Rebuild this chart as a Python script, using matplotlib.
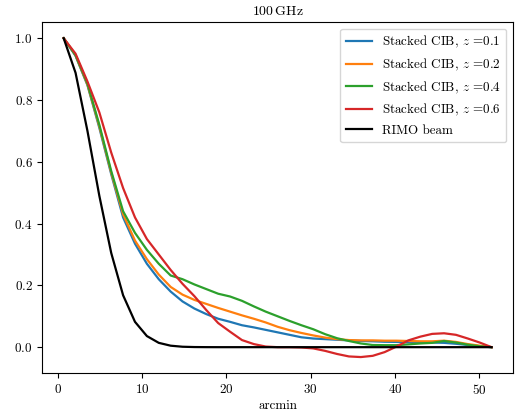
import matplotlib
matplotlib.use("Agg")
import matplotlib.pyplot as plt

plt.rcParams['font.family'] = ['cmr10', 'DejaVu Serif']
plt.rcParams['mathtext.fontset'] = 'cm'
plt.rcParams['axes.formatter.use_mathtext'] = True
plt.rcParams['font.size'] = 9.4

arcmin = [0.70, 2.11, 3.52, 4.93, 6.34, 7.75, 9.16, 10.57, 11.98, 13.39, 14.80, 16.21,
          17.62, 19.03, 20.44, 21.85, 23.26, 24.67, 26.08, 27.49, 28.90, 30.31, 31.72,
          33.13, 34.54, 35.95, 37.36, 38.77, 40.18, 41.59, 43.00, 44.41, 45.82, 47.23,
          48.64, 50.05, 51.46]

cib_z01 = [1.0, 0.943, 0.848, 0.71, 0.56, 0.42, 0.335, 0.27, 0.22, 0.18, 0.148, 0.125,
           0.107, 0.092, 0.082, 0.071, 0.064, 0.056, 0.048, 0.04, 0.032, 0.028, 0.026,
           0.024, 0.022, 0.02, 0.019, 0.0175, 0.017, 0.016, 0.016, 0.015, 0.014, 0.011,
           0.007, 0.003, 0.0]
cib_z02 = [1.0, 0.945, 0.85, 0.715, 0.565, 0.43, 0.345, 0.285, 0.235, 0.195, 0.17, 0.153,
           0.14, 0.127, 0.115, 0.103, 0.092, 0.08, 0.066, 0.055, 0.046, 0.038, 0.031,
           0.026, 0.023, 0.022, 0.022, 0.021, 0.021, 0.02, 0.019, 0.019, 0.021, 0.017,
           0.01, 0.005, 0.0]
cib_z04 = [1.0, 0.945, 0.853, 0.72, 0.57, 0.44, 0.37, 0.315, 0.27, 0.232, 0.22, 0.203,
           0.188, 0.173, 0.164, 0.15, 0.132, 0.115, 0.10, 0.085, 0.071, 0.058, 0.042,
           0.029, 0.02, 0.012, 0.007, 0.0065, 0.0065, 0.009, 0.012, 0.014, 0.02, 0.015,
           0.008, 0.003, 0.0]
cib_z06 = [1.0, 0.95, 0.86, 0.76, 0.63, 0.515, 0.42, 0.35, 0.30, 0.25, 0.205, 0.165,
           0.12, 0.078, 0.05, 0.023, 0.01, 0.002, 0.0, 0.0, -0.001, -0.004, -0.012,
           -0.022, -0.03, -0.032, -0.028, -0.016, 0.002, 0.022, 0.034, 0.043, 0.045, 0.04,
           0.028, 0.015, 0.0]
rimo_beam = [1.0, 0.888, 0.70, 0.49, 0.305, 0.168, 0.082, 0.036, 0.014, 0.0048, 0.0014,
             0.0004, 0.0001, 0.0, 0.0, 0.0, 0.0, 0.0, 0.0, 0.0, 0.0, 0.0, 0.0, 0.0, 0.0,
             0.0, 0.0, 0.0, 0.0, 0.0, 0.0, 0.0, 0.0, 0.0, 0.0, 0.0, 0.0]

series = [
    (cib_z01, r"Stacked CIB, $z$ =0.1", "#1f77b4"),
    (cib_z02, r"Stacked CIB, $z$ =0.2", "#ff7f0e"),
    (cib_z04, r"Stacked CIB, $z$ =0.4", "#2ca02c"),
    (cib_z06, r"Stacked CIB, $z$ =0.6", "#d62728"),
    (rimo_beam, "RIMO beam", "black"),
]

fig = plt.figure(figsize=(5.2, 4.15), dpi=100)
ax = fig.add_axes([0.0813, 0.1012, 0.9052, 0.8451])
for vals, lab, col in series:
    ax.plot(arcmin, vals, color=col, lw=1.6, label=lab)

ax.set_xticks([0, 10, 20, 30, 40, 50])
ax.set_yticks([0.0, 0.2, 0.4, 0.6, 0.8, 1.0])
ax.set_xlabel("arcmin", labelpad=2)
ax.set_title(r"100$\,$GHz", fontsize=10, pad=5)
ax.legend(loc="upper right", fontsize=9.4, handlelength=2.0)
fig.savefig("out.png", dpi=100)
